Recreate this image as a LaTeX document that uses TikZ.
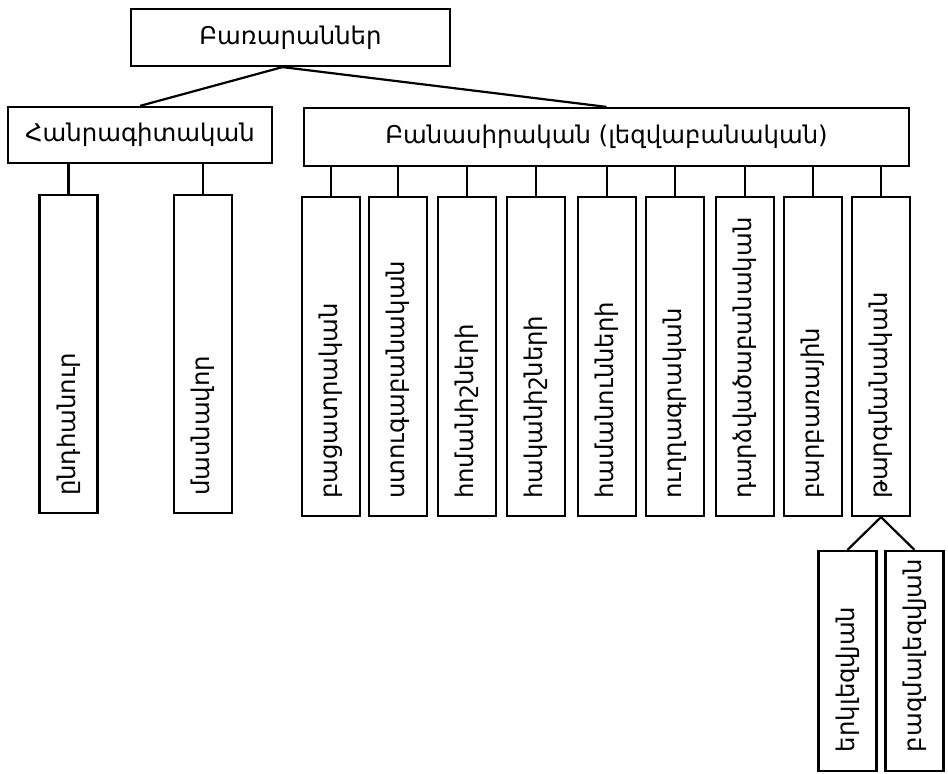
\documentclass[tikz,border=0pt]{standalone}
\usepackage{fontspec}
\setmainfont{DejaVu Sans}
\begin{document}
\begin{tikzpicture}[x=0.5pt,y=-0.5pt,
  every node/.style={font=\fontsize{12.2}{14}\selectfont},
  hbox/.style={draw, line width=1.1pt, inner sep=0pt},
  vbox/.style={draw, line width=1.1pt, rotate=90, minimum height=29pt,
    inner xsep=8.5pt, inner ysep=0pt, align=left, text width=#1},
  conn/.style={line width=1.1pt}]
\useasboundingbox (0,0) rectangle (948,774);
\node[hbox, minimum width=159.5pt, minimum height=28.5pt] (top) at (290.5,37.5) {Բառարաններ};
\node[hbox, minimum width=132pt, minimum height=28pt] (hanr) at (140,135) {Հանրագիտական};
\node[hbox, minimum width=302.5pt, minimum height=29pt] (bans) at (606.5,137) {Բանասիրական (լեզվաբանական)};
\node[vbox=142pt, minimum width=159pt] (l1) at (68.5,354) {ընդհանուր};
\node[vbox=142pt, minimum width=159pt] (l2) at (203,354) {մասնավոր};
\foreach \n/\x/\t in {1/331/բացատրական, 2/398/ստուգաբանական, 3/467/հոմանիշների,
  4/536/հականիշների, 5/607/համանունների, 6/675/ուղղագրական,
  7/745/դարձվածաբանական, 8/813/բարբառային, 9/881/թարգմանական}{
  \node[vbox=142.5pt, minimum width=159.5pt] (b\n) at (\x,356.5) {\t};
  \draw[conn] (bans.south -| b\n) -- (b\n.east);
}
\node[vbox=91pt, minimum width=110pt] (s1) at (847.5,661) {երկլեզվյան};
\node[vbox=91pt, minimum width=110pt] (s2) at (914.5,661) {բազմալեզվյան};
\draw[conn] ([xshift=-4pt]top.south) -- (hanr.north);
\draw[conn] ([xshift=-4pt]top.south) -- (bans.north);
\draw[conn] (hanr.south -| l1) -- (l1.east);
\draw[conn] (hanr.south -| l2) -- (l2.east);
\draw[conn] (b9.west) -- (s1.east);
\draw[conn] (b9.west) -- (s2.east);
\end{tikzpicture}
\end{document}
